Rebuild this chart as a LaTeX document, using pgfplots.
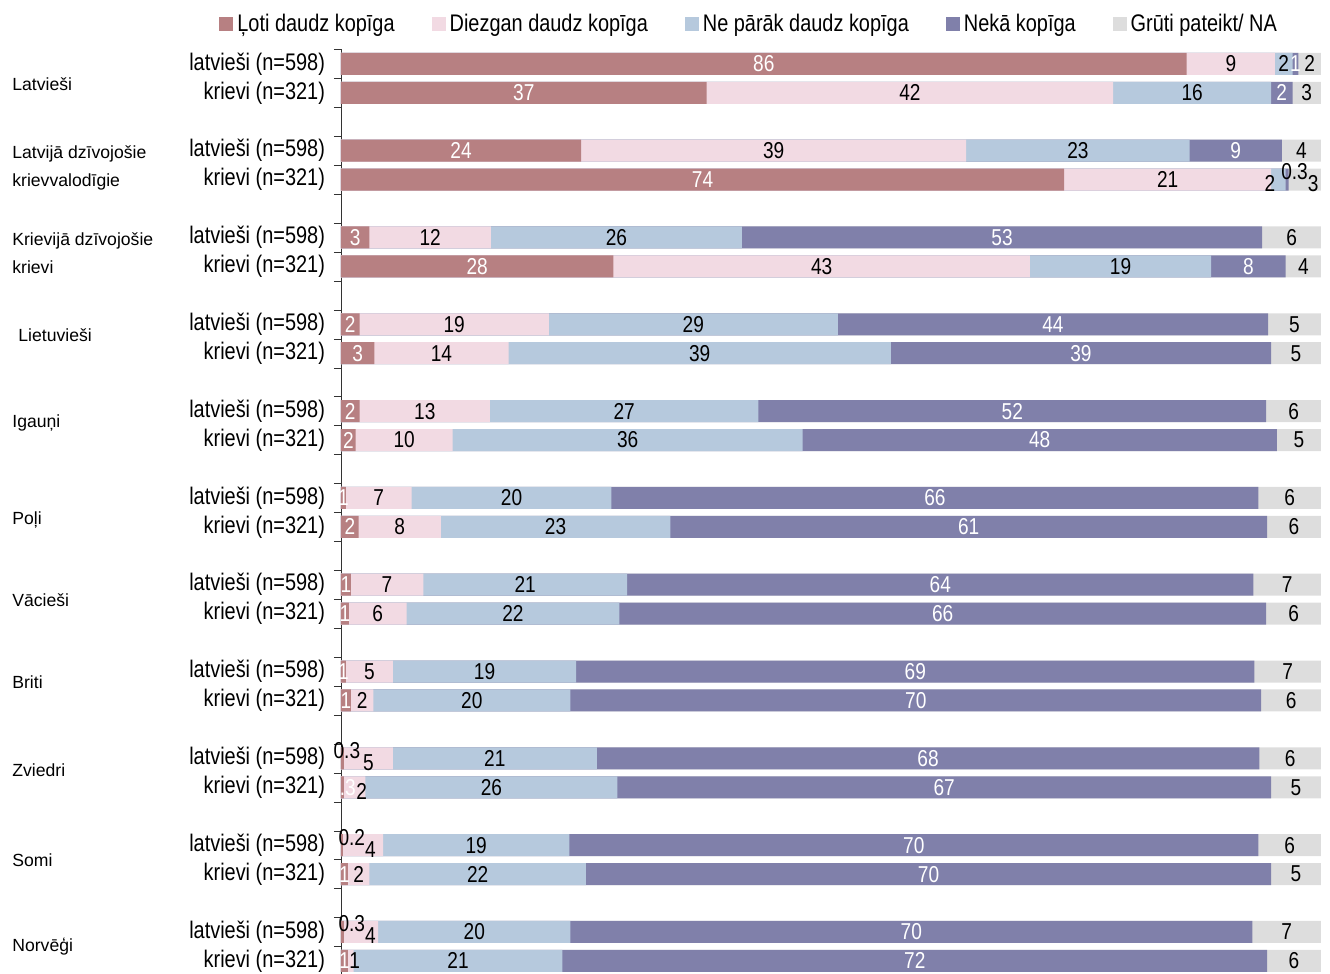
\documentclass[border=0pt]{standalone}
\usepackage{fontspec}
\setmainfont{Liberation Sans}
\newfontfamily\narrow[FakeStretch=0.83]{Liberation Sans}
\usepackage{pgfplots}
\usepackage{pgfplotstable}
\pgfplotsset{compat=1.18}

\definecolor{cA}{RGB}{183,128,130}
\definecolor{cB}{RGB}{242,218,227}
\definecolor{cC}{RGB}{182,201,221}
\definecolor{cD}{RGB}{128,128,170}
\definecolor{cE}{RGB}{221,221,221}

% segment widths (a..e) and printed labels (la..le)
\pgfplotstableread{
y a b c d e la lb lc ld le
0 86.3 9.0 1.8 0.6 2.3 86 9 2 1 2
-1 37.3 41.5 16.1 2.2 2.9 37 42 16 2 3
-3 24.5 39.3 22.8 9.4 4.0 24 39 23 9 4
-4 73.8 21.1 1.5 0.3 3.3 74 21 {} {} {}
-6 2.9 12.4 25.6 53.1 6.0 3 12 26 53 6
-7 27.8 42.5 18.5 7.6 3.6 28 43 19 8 4
-9 1.9 19.3 29.5 43.9 5.4 2 19 29 44 5
-10 3.4 13.7 39.0 38.8 5.1 3 14 39 39 5
-12 1.9 13.3 27.4 51.8 5.6 2 13 27 52 6
-13 1.5 9.9 35.7 48.4 4.5 2 10 36 48 5
-15 0.5 6.7 20.4 66.0 6.4 1 7 20 66 6
-16 1.8 8.4 23.4 60.9 5.5 2 8 23 61 6
-18 1.0 7.4 20.8 63.9 6.9 1 7 21 64 7
-19 0.8 5.9 21.7 66.0 5.6 1 6 22 66 6
-21 0.5 4.8 18.7 69.2 6.8 1 5 19 69 7
-22 1.0 2.3 20.1 70.5 6.1 1 2 20 70 6
-24 0.3 5.0 20.8 67.6 6.3 {} {} 21 68 6
-25 0.3 2.2 25.7 66.7 5.1 0.3 {} 26 67 5
-27 0.2 4.1 19.0 70.3 6.4 {} {} 19 70 6
-28 0.7 2.2 22.1 69.9 5.1 1 2 22 70 5
-30 0.3 3.5 19.6 69.6 7.0 {} {} 20 70 7
-31 0.7 0.6 21.3 71.9 5.5 1 {} 21 72 6
}\data

% labels of tiny segments, set beside, above or below the bar
\pgfplotstableread{
x y t
97.3 -4 0.3
0.6 -24 0.3
1.1 -27 0.2
1.1 -30 0.3
}\uplabels
\pgfplotstableread{
x y t
94.8 -4 2
99.2 -4 3
2.8 -24 5
2.1 -25 2
3.0 -27 4
3.0 -30 4
}\dnlabels
\pgfplotstableread{
x y t
1.4 -31 1
}\midlabels

\pgfplotsset{
  seg/.style={xbar, bar width=11pt, bar shift=0pt, draw=none, forget plot},
  lab/.style={only marks, mark=none, forget plot, nodes near coords,
    point meta=explicit symbolic,
    nodes near coords style={anchor=center, inner sep=0pt, text=#1,
      font=\narrow\fontsize{11.5}{12}\selectfont}},
}

\begin{document}
\begin{tikzpicture}
\begin{axis}[
  name=ax,
  scale only axis, width=490pt, height=463pt,
  xmin=0, xmax=100, ymin=-31.5, ymax=0.5,
  axis x line=none,
  axis y line*=left,
  axis line style={black!80},
  clip=false,
  ytick={0,-1,-3,-4,-6,-7,-9,-10,-12,-13,-15,-16,-18,-19,-21,-22,-24,-25,-27,-28,-30,-31},
  yticklabels={{latvieši (n=598)},{krievi (n=321)},{latvieši (n=598)},{krievi (n=321)},
    {latvieši (n=598)},{krievi (n=321)},{latvieši (n=598)},{krievi (n=321)},
    {latvieši (n=598)},{krievi (n=321)},{latvieši (n=598)},{krievi (n=321)},
    {latvieši (n=598)},{krievi (n=321)},{latvieši (n=598)},{krievi (n=321)},
    {latvieši (n=598)},{krievi (n=321)},{latvieši (n=598)},{krievi (n=321)},
    {latvieši (n=598)},{krievi (n=321)}},
  minor ytick={0.5,-0.5,...,-31.5},
  tick align=outside,
  major tick length=0pt, minor tick length=3.5pt,
  minor tick style={black!80},
  yticklabel style={font=\narrow\fontsize{12}{12}\selectfont, xshift=-4.5pt},
  legend columns=5,
  legend style={draw=none, fill=none, at={(-0.1306,1.0275)}, anchor=west,
    font=\narrow\fontsize{12}{12}\selectfont,
    /tikz/every even column/.append style={column sep=16.5pt}},
  legend image code/.code={\fill[#1, draw=none] (0pt,-3.5pt) rectangle (7pt,3.5pt);},
]
\addlegendimage{fill=cA}
\addlegendimage{fill=cB}
\addlegendimage{fill=cC}
\addlegendimage{fill=cD}
\addlegendimage{fill=cE}
\legend{Ļoti daudz kopīga, Diezgan daudz kopīga, Ne pārāk daudz kopīga, Nekā kopīga, Grūti pateikt/ NA}

% bars: longest first, each later bar covers the start of the previous
\addplot[seg, fill=cE] table[x expr=\thisrow{a}+\thisrow{b}+\thisrow{c}+\thisrow{d}+\thisrow{e}, y=y]{\data};
\addplot[seg, fill=cD] table[x expr=\thisrow{a}+\thisrow{b}+\thisrow{c}+\thisrow{d}, y=y]{\data};
\addplot[seg, fill=cC] table[x expr=\thisrow{a}+\thisrow{b}+\thisrow{c}, y=y]{\data};
\addplot[seg, fill=cB] table[x expr=\thisrow{a}+\thisrow{b}, y=y]{\data};
\addplot[seg, fill=cA] table[x=a, y=y]{\data};

% value labels at the middle of each segment
\addplot[lab=white] table[x expr=\thisrow{a}/2, y=y, meta=la]{\data};
\addplot[lab=black] table[x expr=\thisrow{a}+\thisrow{b}/2, y=y, meta=lb]{\data};
\addplot[lab=black] table[x expr=\thisrow{a}+\thisrow{b}+\thisrow{c}/2, y=y, meta=lc]{\data};
\addplot[lab=white] table[x expr=\thisrow{a}+\thisrow{b}+\thisrow{c}+\thisrow{d}/2, y=y, meta=ld]{\data};
\addplot[lab=black] table[x expr=\thisrow{a}+\thisrow{b}+\thisrow{c}+\thisrow{d}+\thisrow{e}/2, y=y, meta=le]{\data};
\addplot[lab=black, nodes near coords style={yshift=4pt}] table[x=x, y=y, meta=t]{\uplabels};
\addplot[lab=black, nodes near coords style={yshift=-2pt}] table[x=x, y=y, meta=t]{\dnlabels};
\addplot[lab=black] table[x=x, y=y, meta=t]{\midlabels};

\begin{scope}[every node/.style={anchor=west, align=left, inner sep=0pt, font=\fontsize{8.8}{14}\selectfont}]
\node at ([xshift=-164.5pt]axis cs:0,-0.69) {Latvieši};
\node at ([xshift=-164.5pt]axis cs:0,-3.59) {Latvijā dzīvojošie\\krievvalodīgie};
\node at ([xshift=-164.5pt]axis cs:0,-6.55) {Krievijā dzīvojošie\\krievi};
\node at ([xshift=-161.5pt]axis cs:0,-9.38) {Lietuvieši};
\node at ([xshift=-164.5pt]axis cs:0,-12.41) {Igauņi};
\node at ([xshift=-164.5pt]axis cs:0,-15.76) {Poļi};
\node at ([xshift=-164.5pt]axis cs:0,-18.52) {Vācieši};
\node at ([xshift=-164.5pt]axis cs:0,-21.38) {Briti};
\node at ([xshift=-164.5pt]axis cs:0,-24.41) {Zviedri};
\node at ([xshift=-164.5pt]axis cs:0,-27.52) {Somi};
\node at ([xshift=-164.5pt]axis cs:0,-30.52) {Norvēģi};
\end{scope}
\end{axis}
\pgfresetboundingbox
\path ([xshift=-170.5pt, yshift=0.7pt]ax.south west) rectangle ([xshift=494.5pt, yshift=487.7pt]ax.south west);
\end{tikzpicture}
\end{document}
